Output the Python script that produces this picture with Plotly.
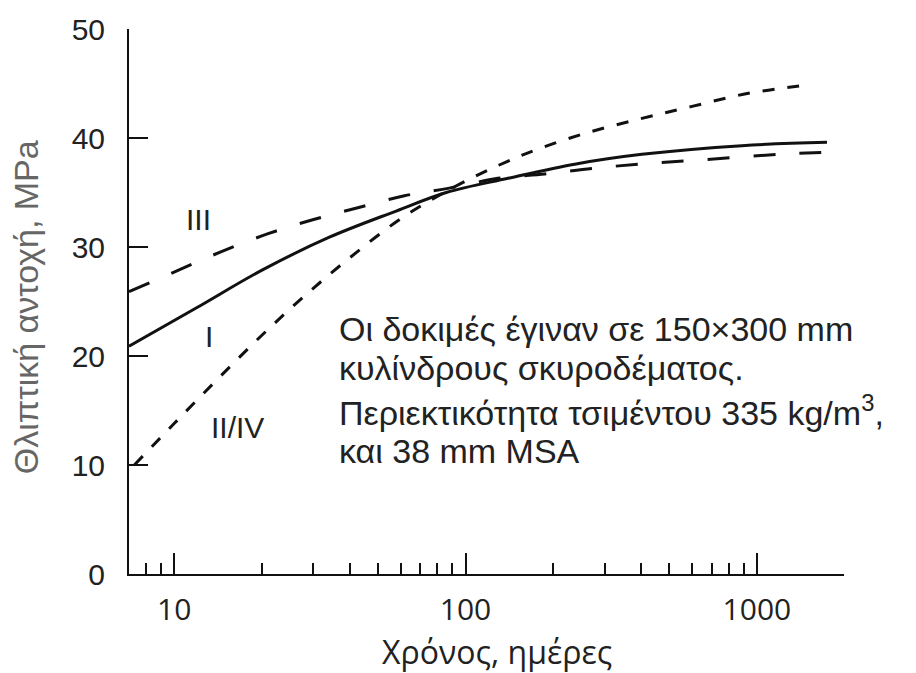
import math
import plotly.graph_objects as go

# Compressive strength development of concrete over time (log time axis)
days_I = [7, 11.9, 20.1, 34.1, 57.8, 85.9, 140, 237, 403, 888, 1740]
strength_I = [20.9, 24.4, 27.9, 30.9, 33.3, 35.0, 36.3, 37.6, 38.5, 39.3, 39.6]

days_III = [7, 10.4, 14.6, 20.9, 29.9, 42.7, 61.7, 88, 129, 187, 271, 392, 575, 1189, 1760]
strength_III = [25.9, 27.9, 29.6, 31.2, 32.5, 33.6, 34.7, 35.4, 36.3, 36.7, 37.2, 37.6, 37.9, 38.5, 38.7]

days_II_IV = [7.3, 10, 14, 20, 28, 40, 60, 90, 130, 178, 263, 403, 599, 935, 1520]
strength_II_IV = [10.0, 13.8, 17.8, 21.9, 25.5, 29.0, 32.6, 35.4, 37.5, 39.0, 40.5, 41.8, 42.9, 44.1, 44.9]

major_ticks = [10, 100, 1000]
major_labels = ["10", "100", "1000"]
y_ticks = [0, 10, 20, 30, 40, 50]

minor_ticks = [m * 10 ** e for e in range(0, 4) for m in range(2, 10)]

fig = go.Figure()

fig.add_trace(go.Scatter(x=days_III, y=strength_III, mode="lines", line_shape="spline",
                         line=dict(color="#111", width=3, dash="22px,24px"), name="III"))
fig.add_trace(go.Scatter(x=days_I, y=strength_I, mode="lines", line_shape="spline",
                         line=dict(color="#111", width=3), name="I"))
fig.add_trace(go.Scatter(x=days_II_IV, y=strength_II_IV, mode="lines", line_shape="spline",
                         line=dict(color="#111", width=3, dash="12px,13px"), name="II/IV"))

label_font = dict(family="Liberation Sans, Arial, sans-serif", size=30, color="#222")
text_font = dict(family="Liberation Sans, Arial, sans-serif", size=34, color="#222")

# Curve labels (x in log10 units on a log axis)
curve_labels = [("III", 12.1, 32.5), ("I", 13.2, 21.8), ("II/IV", 16.5, 13.4)]
for txt, xv, yv in curve_labels:
    fig.add_annotation(x=math.log10(xv), y=yv, xref="x", yref="y", text=txt,
                       showarrow=False, font=label_font, xanchor="center", yanchor="middle")

note_lines = [
    ("Οι δοκιμές έγιναν σε 150×300 mm", 22.5),
    ("κυλίνδρους σκυροδέματος.", 18.9),
    ("Περιεκτικότητα τσιμέντου 335 kg/m<sup>3</sup>,", 15.0),
    ("και 38 mm MSA", 11.3),
]
for txt, yv in note_lines:
    fig.add_annotation(x=math.log10(36.3), y=yv, xref="x", yref="y", text=txt,
                       showarrow=False, font=text_font, xanchor="left", yanchor="middle")

# Axis titles
fig.add_annotation(x=0.515, y=-0.142, xref="paper", yref="paper", text="Χρόνος, ημέρες",
                   showarrow=False, xanchor="center", yanchor="middle",
                   font=dict(family="Open Sans, sans-serif", size=32, color="#222"))
fig.add_annotation(x=-0.143, y=0.489, xref="paper", yref="paper", text="Θλιπτική αντοχή, ΜPa",
                   textangle=-90, showarrow=False, xanchor="center", yanchor="middle",
                   font=dict(family="Liberation Sans, Arial, sans-serif", size=34, color="#666"))

fig.update_layout(
    width=916, height=673,
    margin=dict(l=129, r=72, t=18, b=99),
    paper_bgcolor="white", plot_bgcolor="white",
    showlegend=False,
)

fig.update_xaxes(
    type="log", range=[math.log10(7.0), math.log10(1990)],
    tickmode="array", tickvals=major_ticks, ticktext=major_labels,
    ticks="inside", ticklen=21, tickwidth=2, tickcolor="#111",
    showline=True, linecolor="#111", linewidth=2,
    showgrid=False, zeroline=False,
    tickfont=dict(family="Open Sans, sans-serif", size=30, color="#222"),
    ticklabelstandoff=8,
    minor=dict(tickmode="array", tickvals=minor_ticks, ticks="inside",
               ticklen=11, tickwidth=2, tickcolor="#111", showgrid=False),
)

fig.update_yaxes(
    range=[0, 50], tickmode="array", tickvals=y_ticks,
    ticks="inside", ticklen=19, tickwidth=2, tickcolor="#111",
    showline=True, linecolor="#111", linewidth=2,
    showgrid=False, zeroline=False,
    tickfont=dict(family="Liberation Sans, Arial, sans-serif", size=30, color="#222"),
    ticklabelstandoff=16,
)

fig.write_html("out.html")
